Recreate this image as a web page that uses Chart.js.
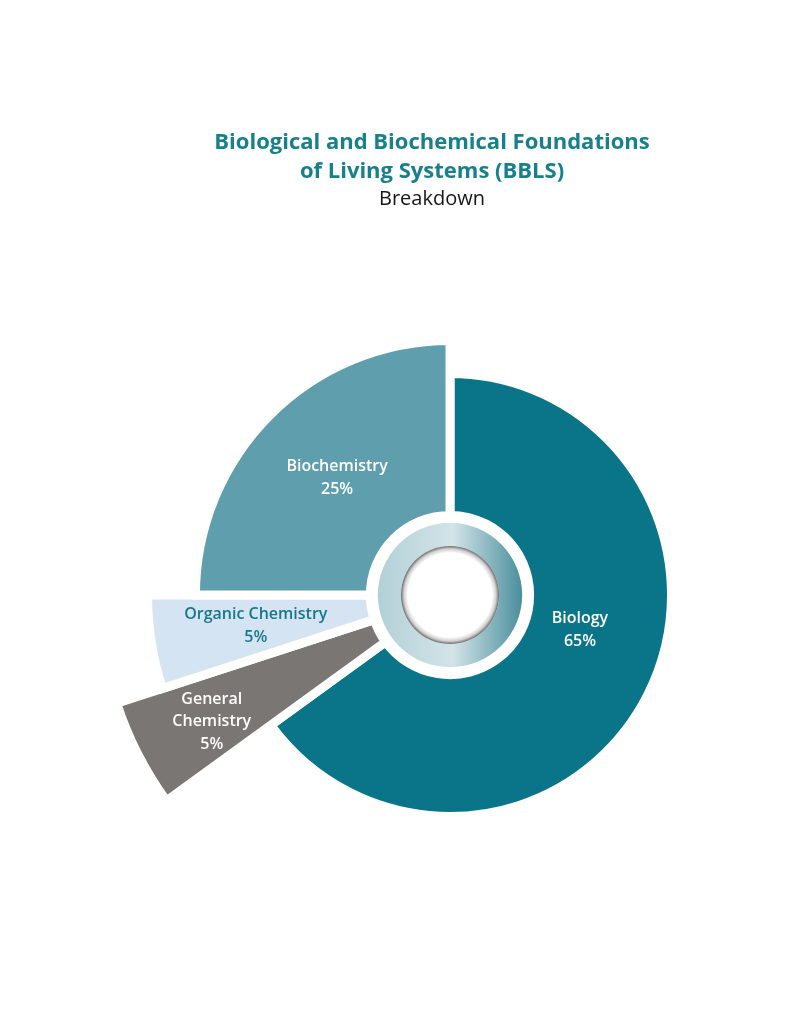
<!DOCTYPE html>
<html>
<head>
<meta charset="utf-8">
<script src="https://cdn.jsdelivr.net/npm/chart.js@4/dist/chart.umd.min.js"></script>
<style>
  html, body { margin: 0; padding: 0; background: #ffffff; overflow: hidden; }
  #wrap { position: relative; width: 791px; height: 1024px; }
  #c { position: absolute; left: 0; top: 0; }
  #title { position: absolute; left: 0; width: 864px; top: 126px; text-align: center; font-family: "Open Sans", Lato, sans-serif; }
  #title .t1 { color: #17808d; font-weight: 700; font-size: 22px; line-height: 29px; }
  #title .t2 { color: #151515; font-weight: 400; font-size: 20px; line-height: 27px; }
</style>
</head>
<body>
<div id="wrap">
  <canvas id="c" width="791" height="1024"></canvas>
  <div id="title">
    <div class="t1">Biological and Biochemical Foundations</div>
    <div class="t1">of Living Systems (BBLS)</div>
    <div class="t2">Breakdown</div>
  </div>
</div>
<script>
// ---- data ----
const categories = ["Biology", "General Chemistry", "Organic Chemistry", "Biochemistry"];
const shares = [65, 5, 5, 25];
const labelLines = [["Biology"], ["General", "Chemistry"], ["Organic Chemistry"], ["Biochemistry"]];

// ---- styles ----
const sliceColors = ["#0a7588", "#7a7674", "#d5e4f2", "#5f9fad"];
const labelColors = ["#ffffff", "#ffffff", "#17778a", "#ffffff"];
const sliceReach = [0.804, 1.272, 1.098, 0.924];      // outer radius relative to base radius
const labelAngleShift = [-12, -1, 0, 1];               // degrees
const labelRadius = [0.62, 0.78, 0.66, 0.65];          // fraction of visible outer radius

const reachPlugin = {
  id: 'reach',
  afterDatasetsUpdate(chart) {
    const meta = chart.getDatasetMeta(0);
    const base = meta.controller.outerRadius;
    meta.data.forEach((arc, i) => { arc.outerRadius = base * sliceReach[i]; });
  },
  afterDatasetsDraw(chart) {
    const ctx = chart.ctx;
    const meta = chart.getDatasetMeta(0);
    const base = meta.controller.outerRadius;
    const arc0 = meta.data[0];
    const cx = arc0.x, cy = arc0.y;
    const rOut = base * 0.262, rIn = base * 0.178;
    ctx.save();
    // gradient ring
    const g = ctx.createLinearGradient(cx - rOut, cy, cx + rOut, cy);
    g.addColorStop(0, '#b3d0d7');
    g.addColorStop(0.52, '#d2e4e8');
    g.addColorStop(1, '#4a8f9d');
    ctx.beginPath();
    ctx.arc(cx, cy, rOut, 0, Math.PI * 2);
    ctx.arc(cx, cy, rIn, 0, Math.PI * 2, true);
    ctx.fillStyle = g;
    ctx.fill();
    // inner white disc with soft shadow edge
    const rg = ctx.createRadialGradient(cx, cy, 0, cx, cy, rIn);
    rg.addColorStop(0, '#ffffff');
    rg.addColorStop(0.86, '#ffffff');
    rg.addColorStop(0.94, '#cfcfcf');
    rg.addColorStop(1, '#6a6a6a');
    ctx.beginPath();
    ctx.arc(cx, cy, rIn, 0, Math.PI * 2);
    ctx.fillStyle = rg;
    ctx.fill();
    // labels
    ctx.textAlign = 'center';
    ctx.textBaseline = 'middle';
    ctx.font = '600 16px "Open Sans", Lato, sans-serif';
    const lh = 22.5;
    meta.data.forEach((arc, i) => {
      const mid = (arc.startAngle + arc.endAngle) / 2 + labelAngleShift[i] * Math.PI / 180;
      const r = (arc.outerRadius - 4.5) * labelRadius[i];
      const x = arc.x + Math.cos(mid) * r;
      const y = arc.y + Math.sin(mid) * r;
      const lines = labelLines[i].concat([shares[i] + '%']);
      ctx.fillStyle = labelColors[i];
      lines.forEach((t, k) => {
        ctx.fillText(t, x, y + (k - (lines.length - 1) / 2) * lh);
      });
    });
    ctx.restore();
  }
};

new Chart(document.getElementById('c'), {
  type: 'doughnut',
  data: {
    labels: categories,
    datasets: [{
      data: shares,
      backgroundColor: sliceColors,
      borderColor: '#ffffff',
      borderWidth: 9,
      hoverBorderWidth: 9,
      borderJoinStyle: 'miter',
      borderAlign: 'center',
      clip: false
    }]
  },
  options: {
    responsive: false,
    animation: false,
    cutout: '28.9%',
    rotation: 0,
    layout: { padding: { left: 170, right: 61, top: 315, bottom: 149 } },
    plugins: { legend: { display: false }, tooltip: { enabled: false }, title: { display: false } }
  },
  plugins: [reachPlugin]
});
</script>
</body>
</html>
